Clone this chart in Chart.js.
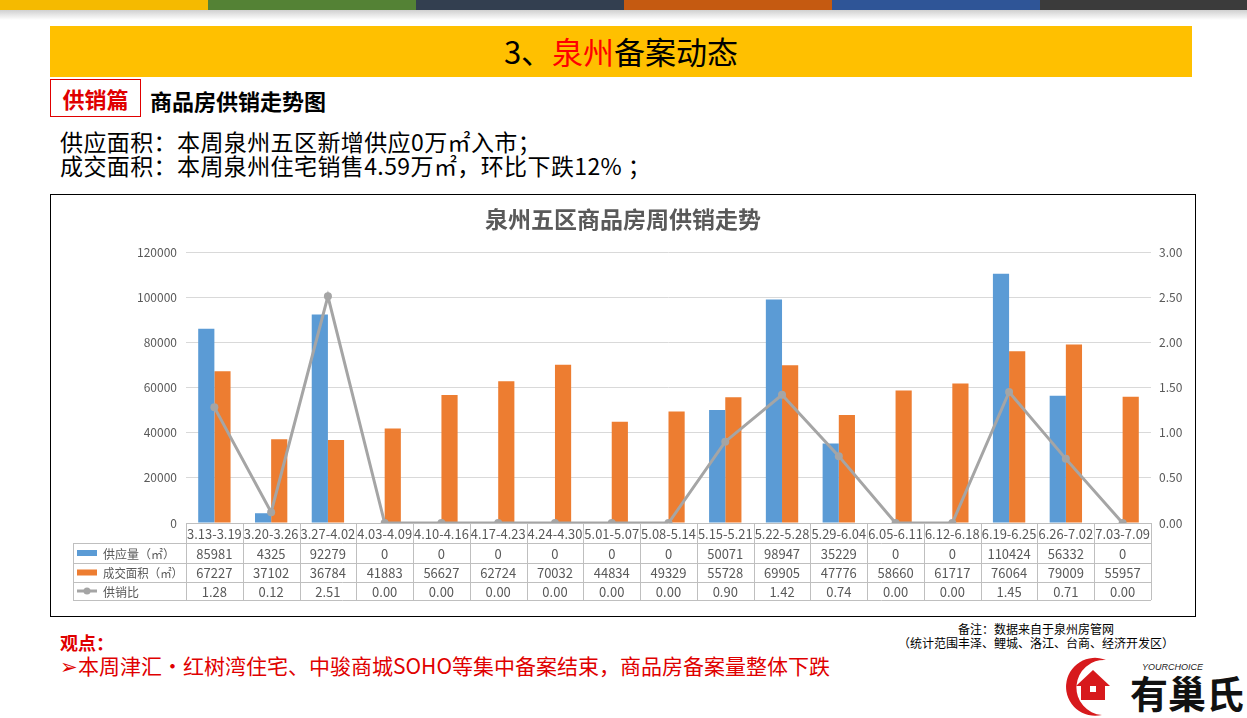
<!DOCTYPE html>
<html>
<head>
<meta charset="utf-8">
<script src="https://cdn.jsdelivr.net/npm/chart.js@4"></script>
<style>
  body { margin: 0; width: 1247px; height: 718px; background: #fff; position: relative; overflow: hidden;
         font-family: "Microsoft YaHei", "Noto Sans CJK SC", sans-serif; }
  .abs { position: absolute; white-space: nowrap; }
  .stripe { position: absolute; top: 0; height: 10px; }
  #shadow { position: absolute; top: 10px; left: 0; width: 1247px; height: 10px;
            background: linear-gradient(#d0d0d0, #fff); }
  #banner { position: absolute; left: 50px; top: 26px; width: 1142px; height: 51px; background: #FFC000; }
  #chartBox { position: absolute; left: 50px; top: 194px; width: 1144px; height: 421px; border: 1px solid #000; }
</style>
</head>
<body>
<div class="stripe" style="left:0;width:208px;background:#F5BA00"></div>
<div class="stripe" style="left:208px;width:208px;background:#548235"></div>
<div class="stripe" style="left:416px;width:208px;background:#333F50"></div>
<div class="stripe" style="left:624px;width:208px;background:#C55A11"></div>
<div class="stripe" style="left:832px;width:208px;background:#2F5597"></div>
<div class="stripe" style="left:1040px;width:207px;background:#3B3B3B"></div>
<div id="shadow"></div>

<div id="banner"></div>
<div class="abs" style="left:50px;width:1142px;top:33px;text-align:center;font-size:31px;line-height:36px;color:#000">3、<span style="color:#FF0000">泉州</span>备案动态</div>

<div class="abs" style="left:50px;top:79px;width:89px;height:36px;border:1px solid #E00000;color:#E00000;font-weight:bold;font-size:22px;line-height:36px;text-align:center">供销篇</div>
<div class="abs" style="left:150px;top:87px;font-weight:bold;font-size:22px;line-height:26px;color:#000">商品房供销走势图</div>

<div class="abs" style="left:60px;top:128px;font-size:23px;line-height:26px;color:#000;letter-spacing:0.4px">供应面积：本周泉州五区新增供应0万㎡入市；</div>
<div class="abs" style="left:60px;top:152px;font-size:23px;line-height:26px;color:#000;letter-spacing:0.4px">成交面积：本周泉州住宅销售4.59万㎡，环比下跌12% ；</div>

<div id="chartBox"><canvas id="supplyChart"></canvas></div>
<div class="abs" style="left:51px;width:1144px;top:204px;text-align:center;font-size:23px;font-weight:bold;line-height:28px;color:#595959">泉州五区商品房周供销走势</div>

<div class="abs" style="left:60px;top:631px;font-size:18px;font-weight:bold;line-height:22px;color:#E00000">观点：</div>
<div class="abs" style="left:60px;top:653px;font-size:21px;line-height:24px;color:#E00000">➢本周津汇·红树湾住宅、中骏商城SOHO等集中备案结束，商品房备案量整体下跌</div>

<div class="abs" style="left:900px;width:272px;top:621px;text-align:center;font-size:12px;line-height:15px;color:#000">备注：数据来自于泉州房管网</div>
<div class="abs" style="left:890px;width:292px;top:635px;text-align:center;font-size:12px;line-height:15px;color:#000">（统计范围丰泽、鲤城、洛江、台商、经济开发区）</div>

<svg class="abs" style="left:1062px;top:654px" width="185" height="64" viewBox="0 0 185 64">
  <path d="M44 6 A29 29 0 1 0 40 61 A24 24 0 1 1 44 6 Z" fill="#D7191C"/>
  <path d="M14 32 L31 16 L48 32 L43 32 L43 46 L19 46 L19 32 Z" fill="#D7191C"/>
  <rect x="28" y="32" width="6" height="6" fill="#fff"/>
  <text x="80" y="16" font-size="9" font-style="italic" font-family="Liberation Sans" fill="#222">YOURCHOICE</text>
  <text x="68" y="54" font-size="38" font-weight="bold" font-family="Noto Sans CJK SC" fill="#111">有巢氏</text>
</svg>

<script>
const weeks = ["3.13-3.19", "3.20-3.26", "3.27-4.02", "4.03-4.09", "4.10-4.16", "4.17-4.23", "4.24-4.30", "5.01-5.07", "5.08-5.14", "5.15-5.21", "5.22-5.28", "5.29-6.04", "6.05-6.11", "6.12-6.18", "6.19-6.25", "6.26-7.02", "7.03-7.09"];
const supply = [85981, 4325, 92279, 0, 0, 0, 0, 0, 0, 50071, 98947, 35229, 0, 0, 110424, 56332, 0];
const deals = [67227, 37102, 36784, 41883, 56627, 62724, 70032, 44834, 49329, 55728, 69905, 47776, 58660, 61717, 76064, 79009, 55957];
const ratio = [1.28, 0.12, 2.51, 0.00, 0.00, 0.00, 0.00, 0.00, 0.00, 0.90, 1.42, 0.74, 0.00, 0.00, 1.45, 0.71, 0.00];
const seriesNames = ["供应量（㎡）", "成交面积（㎡）", "供销比"];

const BLUE = "#5B9BD5", ORANGE = "#ED7D31", GRAY = "#A5A5A5";
const FONT = '"Microsoft YaHei", "Noto Sans CJK SC", sans-serif';

// data table under the plot, like Excel's chart data table
const dataTable = {
    id: "dataTable",
    afterDraw(chart) {
        const ctx = chart.ctx;
        const x = chart.scales.x;
        const area = chart.chartArea;
        const n = weeks.length;
        const colW = (area.right - area.left) / n;
        const rowsY = [area.bottom, area.bottom + 20, area.bottom + 40, area.bottom + 59, area.bottom + 77];
        const tableLeft = 22;

        ctx.save();
        ctx.strokeStyle = "#BFBFBF";
        ctx.lineWidth = 1;
        ctx.beginPath();
        ctx.moveTo(area.left, rowsY[0] + 0.5); ctx.lineTo(area.right, rowsY[0] + 0.5);
        for (let r = 1; r < rowsY.length; r++) {
            ctx.moveTo(tableLeft, rowsY[r] + 0.5); ctx.lineTo(area.right, rowsY[r] + 0.5);
        }
        ctx.moveTo(tableLeft + 0.5, rowsY[1]); ctx.lineTo(tableLeft + 0.5, rowsY[4]);
        for (let i = 0; i <= n; i++) {
            const xx = Math.round(area.left + i * colW) + 0.5;
            ctx.moveTo(xx, rowsY[0]); ctx.lineTo(xx, rowsY[4]);
        }
        ctx.stroke();

        ctx.fillStyle = "#595959";
        ctx.font = "13px " + FONT;
        ctx.textAlign = "center";
        ctx.textBaseline = "middle";
        const rows = [supply, deals, ratio.map(v => v.toFixed(2))];
        weeks.forEach((w, i) => {
            const cx = x.getPixelForValue(i);
            ctx.fillText(w, cx, (rowsY[0] + rowsY[1]) / 2 + 1, colW - 2);
            rows.forEach((row, r) => {
                ctx.fillText(String(row[i]), cx, (rowsY[r + 1] + rowsY[r + 2]) / 2 + 1);
            });
        });

        // legend keys
        ctx.textAlign = "left";
        ctx.font = "12px " + FONT;
        seriesNames.forEach((name, r) => {
            const cy = (rowsY[r + 1] + rowsY[r + 2]) / 2;
            if (r < 2) {
                ctx.fillStyle = r === 0 ? BLUE : ORANGE;
                ctx.fillRect(tableLeft + 4, cy - 3, 20, 6);
            } else {
                ctx.strokeStyle = GRAY;
                ctx.lineWidth = 3;
                ctx.beginPath(); ctx.moveTo(tableLeft + 4, cy); ctx.lineTo(tableLeft + 24, cy); ctx.stroke();
                ctx.fillStyle = GRAY;
                ctx.beginPath(); ctx.arc(tableLeft + 14, cy, 3.5, 0, Math.PI * 2); ctx.fill();
            }
            ctx.fillStyle = "#595959";
            ctx.fillText(name, tableLeft + 30, cy + 1, area.left - tableLeft - 33);
        });
        ctx.restore();
    }
};

new Chart(document.getElementById("supplyChart").getContext("2d"), {
    type: "bar",
    data: {
        labels: weeks,
        datasets: [
            { type: "line", label: seriesNames[2], data: ratio, yAxisID: "y1", order: 0,
              borderColor: GRAY, backgroundColor: GRAY, borderWidth: 3,
              pointRadius: 4, pointBackgroundColor: GRAY, pointBorderWidth: 0 },
            { label: seriesNames[0], data: supply, backgroundColor: BLUE, yAxisID: "y", order: 1,
              barPercentage: 1, categoryPercentage: 0.57 },
            { label: seriesNames[1], data: deals, backgroundColor: ORANGE, yAxisID: "y", order: 1,
              barPercentage: 1, categoryPercentage: 0.57 }
        ]
    },
    options: {
        responsive: true,
        maintainAspectRatio: false,
        animation: false,
        layout: { padding: { top: 57, bottom: 93, left: 0, right: 0 } },
        plugins: { legend: { display: false }, title: { display: false }, tooltip: { enabled: false } },
        scales: {
            x: { display: false },
            y: {
                position: "left", min: 0, max: 120000,
                ticks: { stepSize: 20000, color: "#595959", padding: 9, font: { size: 12, family: FONT },
                         callback: v => String(v) },
                grid: { color: "#D9D9D9", drawTicks: false },
                border: { display: false },
                afterFit(scale) { scale.width = 135; }
            },
            y1: {
                position: "right", min: 0, max: 3,
                ticks: { stepSize: 0.5, color: "#595959", padding: 8, font: { size: 12, family: FONT },
                         callback: v => v.toFixed(2) },
                grid: { display: false, drawTicks: false },
                border: { display: false },
                afterFit(scale) { scale.width = 44; }
            }
        }
    },
    plugins: [dataTable]
});
</script>
</body>
</html>
